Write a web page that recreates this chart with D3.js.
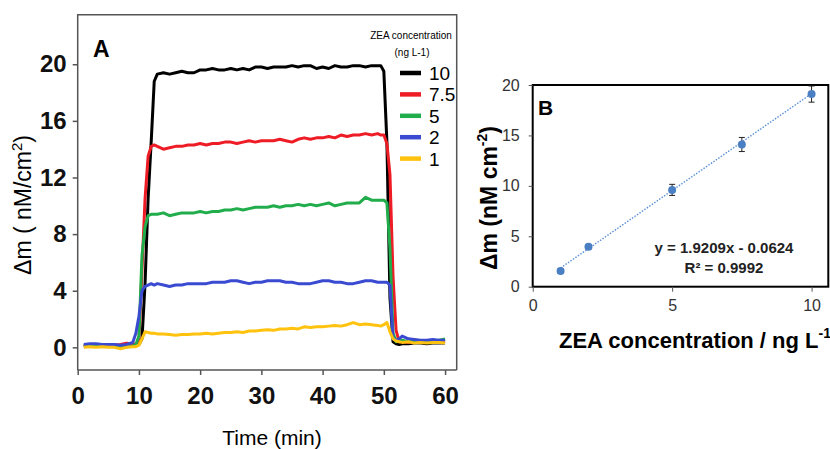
<!DOCTYPE html>
<html lang="en">
<head>
<meta charset="UTF-8">
<title>ZEA concentration response</title>
<script src="https://d3js.org/d3.v7.min.js"></script>
<style>
  body { margin: 0; background: #fff; }
  svg { font-family: "Liberation Sans", Arial, sans-serif; }
</style>
</head>
<body>
<svg id="chart" width="830" height="449"></svg>
<script>
// Panel A: sensorgrams (time in min, Δm in nM/cm2)
const timeMin = [1,2,3,4,5,6,7,8,9,9.5,10,10.5,11,11.5,12,12.5,13,14,15,16,17,18,19,20,21,22,23,24,25,26,27,28,29,30,31,32,33,34,35,36,37,38,39,40,41,42,43,44,45,46,47,48,49,49.5,50,50.5,51,51.5,52,52.5,53,54,55,56,57,58,59,60];

const zea10 = [0.1,0.2,0.2,0.15,0.2,0.15,0.1,0.1,0.1,
  0.15,0.2,0.6,4.5,10.5,14.5,18.8,
  19.3,19.4,19.3,19.4,19.5,19.4,19.4,19.6,19.6,19.7,19.6,19.6,19.7,19.6,19.7,19.6,19.8,19.8,19.7,19.8,19.8,19.8,19.9,19.8,19.9,19.9,19.7,19.8,19.7,19.9,19.8,19.8,19.9,19.9,19.8,19.9,19.9,
  19.9,19.5,14.5,3.5,0.4,0.25,0.2,
  0.25,0.25,0.3,0.3,0.25,0.3,0.3,0.3];
const zea7_5 = [0.1,0.1,0.15,0.15,0.1,0.15,0.2,0.3,0.2,
  0.25,0.4,5.5,10.5,13.5,14.2,14.3,
  14.2,14.0,14.1,14.2,14.2,14.3,14.3,14.4,14.3,14.4,14.4,14.5,14.5,14.4,14.5,14.6,14.5,14.6,14.6,14.6,14.7,14.6,14.5,14.7,14.8,14.7,14.8,14.8,14.9,14.8,15.0,14.9,15.0,15.0,15.1,15.0,15.1,
  15.0,15.0,14.4,12.2,5.0,1.2,0.4,
  0.4,0.35,0.4,0.35,0.4,0.35,0.4,0.4];
const zea5 = [0.05,0.1,0.1,0.15,0.1,0.1,0.05,0.05,0.1,
  0.2,0.8,6.5,8.5,9.3,9.4,9.4,
  9.4,9.5,9.3,9.4,9.5,9.5,9.5,9.6,9.5,9.6,9.6,9.7,9.7,9.8,9.7,9.8,9.9,9.9,9.9,10.0,9.9,10.0,10.0,10.1,10.0,10.1,10.0,10.1,10.2,10.0,10.1,10.2,10.2,10.2,10.6,10.4,10.4,
  10.4,10.4,10.2,7.0,1.0,0.4,0.45,
  0.5,0.4,0.45,0.4,0.45,0.4,0.5,0.6];
const zea2 = [0.2,0.25,0.25,0.2,0.2,0.2,0.15,0.2,0.35,
  1.0,2.2,4.0,4.3,4.4,4.5,4.4,
  4.5,4.4,4.3,4.4,4.4,4.5,4.5,4.5,4.5,4.6,4.6,4.6,4.7,4.7,4.6,4.5,4.6,4.6,4.7,4.7,4.7,4.6,4.6,4.5,4.5,4.5,4.6,4.7,4.7,4.6,4.6,4.5,4.5,4.6,4.7,4.7,4.6,
  4.6,4.6,4.6,4.4,0.6,0.5,0.6,
  0.8,0.6,0.55,0.5,0.5,0.55,0.5,0.5];
const zea1 = [0.0,0.05,0.0,0.05,0.0,0.0,-0.1,0.0,0.05,
  0.05,0.15,0.6,1.1,1.05,1.0,1.0,
  0.95,0.95,0.9,0.85,0.9,0.9,0.95,0.95,1.0,0.95,1.0,1.05,1.05,1.1,1.05,1.15,1.15,1.2,1.25,1.2,1.3,1.3,1.35,1.3,1.45,1.4,1.45,1.45,1.5,1.55,1.5,1.6,1.75,1.6,1.65,1.6,1.55,
  1.5,1.6,1.75,1.1,0.6,0.45,0.4,
  0.35,0.4,0.3,0.35,0.3,0.35,0.35,0.3];

const legendLabels = ["10", "7.5", "5", "2", "1"];
const seriesColors = ["#000000", "#ee1c25", "#21ad4b", "#3a4bd1", "#ffc20e"];
const ticksAx = [0, 10, 20, 30, 40, 50, 60];
const ticksAy = [0, 4, 8, 12, 16, 20];

// Panel B: calibration
const calibConc = [1, 2, 5, 7.5, 10];
const calibMean = [1.55, 3.95, 9.6, 14.1, 19.1];
const calibErr = [0.2, 0.2, 0.55, 0.7, 0.8];
const fitSlope = 1.9209, fitIntercept = -0.0624;
const ticksBx = [0, 5, 10];
const ticksBy = [0, 5, 10, 15, 20];

const svg = d3.select("#chart");

// ---------- Panel A ----------
const a = { left: 77.7, right: 456.7, top: 14.7, bottom: 370 };
const xA = d3.scaleLinear().domain([0, 61.9]).range([a.left, a.right]);
const yA = d3.scaleLinear().domain([-1.6, 23.5]).range([a.bottom, a.top]);

const gA = svg.append("g");

// frame
gA.append("path")
  .attr("d", `M${a.left},${a.bottom}V${a.top}H${a.right}V${a.bottom}`)
  .attr("fill", "none").attr("stroke", "#555").attr("stroke-width", 1.5);

const axAx = gA.append("g")
  .attr("transform", `translate(0,${a.bottom})`)
  .call(d3.axisBottom(xA).tickValues(ticksAx).tickSize(5).tickPadding(12));
axAx.select(".domain").attr("stroke", "#555").attr("stroke-width", 1.5)
  .attr("d", `M${a.left},0H${a.right}`);
axAx.selectAll(".tick line").attr("stroke", "#555").attr("stroke-width", 1.5);
axAx.selectAll(".tick text").attr("font-size", 24).attr("font-weight", "bold")
  .attr("fill", "#111").attr("font-family", "Liberation Sans, Arial, sans-serif");

const axAy = gA.append("g")
  .attr("transform", `translate(${a.left},0)`)
  .call(d3.axisLeft(yA).tickValues(ticksAy).tickSize(5).tickPadding(6));
axAy.select(".domain").remove();
axAy.selectAll(".tick line").attr("stroke", "#555").attr("stroke-width", 1.5);
axAy.selectAll(".tick text").attr("font-size", 24).attr("font-weight", "bold")
  .attr("fill", "#111").attr("font-family", "Liberation Sans, Arial, sans-serif");

const seriesA = [zea10, zea7_5, zea5, zea2, zea1];
const lineA = d3.line().x((d, i) => xA(timeMin[i])).y(d => yA(d));
seriesA.forEach((vals, k) => {
  gA.append("path")
    .datum(vals)
    .attr("d", lineA)
    .attr("fill", "none")
    .attr("stroke", seriesColors[k])
    .attr("stroke-width", 3)
    .attr("stroke-linejoin", "round");
});

gA.append("text").attr("x", 93).attr("y", 57)
  .attr("font-size", 23).attr("font-weight", "bold").text("A");

// legend
const leg = gA.append("g");
leg.append("text").attr("x", 411).attr("y", 39).attr("text-anchor", "middle")
  .attr("font-size", 10).text("ZEA  concentration");
leg.append("text").attr("x", 412).attr("y", 56).attr("text-anchor", "middle")
  .attr("font-size", 10).text("(ng L-1)");
legendLabels.forEach((lab, k) => {
  const yy = 73 + k * 21.4;
  leg.append("line").attr("x1", 400).attr("x2", 421).attr("y1", yy).attr("y2", yy)
    .attr("stroke", seriesColors[k]).attr("stroke-width", 4.5);
  leg.append("text").attr("x", 429).attr("y", yy + 7)
    .attr("font-size", 19).text(lab);
});

// axis titles
gA.append("text").attr("x", 272).attr("y", 445).attr("text-anchor", "middle")
  .attr("font-size", 21).text("Time (min)");
const ylabA = gA.append("text")
  .attr("transform", "translate(31,205) rotate(-90)")
  .attr("text-anchor", "middle").attr("font-size", 23);
ylabA.append("tspan").text("\u0394m ( nM/cm");
ylabA.append("tspan").attr("font-size", 15).attr("dy", -9).text("2");
ylabA.append("tspan").attr("dy", 9).text(")");

// ---------- Panel B ----------
const b = { left: 532.7, right: 828.3, top: 85, bottom: 286.7 };
const xB = d3.scaleLinear().domain([0, 10.6]).range([b.left, b.right]);
const yB = d3.scaleLinear().domain([0, 20]).range([b.bottom, b.top]);
const gB = svg.append("g");

gB.append("rect")
  .attr("x", b.left).attr("y", b.top)
  .attr("width", b.right - b.left).attr("height", b.bottom - b.top)
  .attr("fill", "none").attr("stroke", "#000").attr("stroke-width", 2);

const axBx = gB.append("g")
  .attr("transform", `translate(0,${b.bottom})`)
  .call(d3.axisBottom(xB).tickValues(ticksBx).tickSize(5).tickPadding(8));
axBx.select(".domain").remove();
axBx.selectAll(".tick line").attr("stroke", "#555");
axBx.selectAll(".tick text").attr("font-size", 16).attr("fill", "#333")
  .attr("font-family", "Liberation Sans, Arial, sans-serif");

const axBy = gB.append("g")
  .attr("transform", `translate(${b.left},0)`)
  .call(d3.axisLeft(yB).tickValues(ticksBy).tickSize(4).tickPadding(9));
axBy.select(".domain").remove();
axBy.selectAll(".tick line").attr("stroke", "#555");
axBy.selectAll(".tick text").attr("font-size", 16).attr("fill", "#333")
  .attr("font-family", "Liberation Sans, Arial, sans-serif");

// trendline
const xFit = [calibConc[0], calibConc[calibConc.length - 1]];
gB.append("line")
  .attr("x1", xB(xFit[0])).attr("y1", yB(fitSlope * xFit[0] + fitIntercept))
  .attr("x2", xB(xFit[1])).attr("y2", yB(fitSlope * xFit[1] + fitIntercept))
  .attr("stroke", "#5b8fd6").attr("stroke-width", 1.4).attr("stroke-dasharray", "1.5,1.5");

// error bars
calibConc.forEach((c, i) => {
  const x0 = xB(c), yt = yB(calibMean[i] + calibErr[i]), yb = yB(calibMean[i] - calibErr[i]);
  gB.append("path")
    .attr("d", `M${x0},${yt}V${yb}M${x0 - 3},${yt}H${x0 + 3}M${x0 - 3},${yb}H${x0 + 3}`)
    .attr("stroke", "#222").attr("stroke-width", 1).attr("fill", "none");
});

gB.selectAll("circle.pt")
  .data(calibConc)
  .enter()
  .append("circle")
  .attr("class", "pt")
  .attr("cx", d => xB(d))
  .attr("cy", (d, i) => yB(calibMean[i]))
  .attr("r", 4)
  .attr("fill", "#4a7fc4");

gB.append("text").attr("x", 538).attr("y", 115)
  .attr("font-size", 21).attr("font-weight", "bold").text("B");

gB.append("text").attr("x", 724).attr("y", 253).attr("text-anchor", "middle")
  .attr("font-size", 15).attr("font-weight", "bold").attr("fill", "#222")
  .text("y = 1.9209x - 0.0624");
gB.append("text").attr("x", 724).attr("y", 273).attr("text-anchor", "middle")
  .attr("font-size", 15).attr("font-weight", "bold").attr("fill", "#222")
  .text("R\u00b2 = 0.9992");

const ylabB = gB.append("text")
  .attr("transform", "translate(497,198) rotate(-90)")
  .attr("text-anchor", "middle").attr("font-size", 23).attr("font-weight", "bold");
ylabB.append("tspan").text("\u0394m (nM cm");
ylabB.append("tspan").attr("font-size", 14).attr("dy", -10).text("-2");
ylabB.append("tspan").attr("dy", 10).text(")");

const xlabB = gB.append("text")
  .attr("x", 695).attr("y", 348).attr("text-anchor", "middle")
  .attr("font-size", 22).attr("font-weight", "bold");
xlabB.append("tspan").text("ZEA concentration / ng L");
xlabB.append("tspan").attr("font-size", 14).attr("dy", -10).text("-1");
</script>
</body>
</html>
